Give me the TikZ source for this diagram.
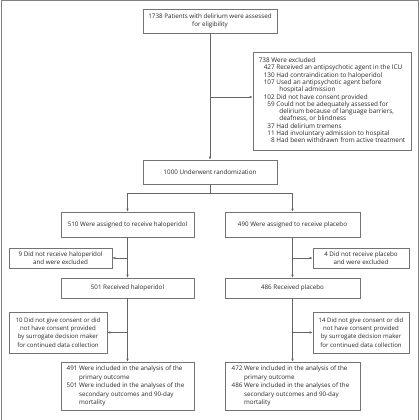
\documentclass[tikz,border=0pt]{standalone}
\usepackage{fontspec}
\setmainfont{Open Sans}
\usetikzlibrary{arrows.meta}
\begin{document}
\begin{tikzpicture}[x=1pt,y=-1pt,
  box/.style={draw=black!55,line width=0.6pt,rectangle,inner sep=0pt,align=center,
    font=\fontsize{6.25}{8.4}\selectfont,text=black!85},
  conn/.style={draw=black!60,line width=0.6pt},
  arr/.style={conn,-{Latex[length=3pt,width=2.6pt]}}]
\useasboundingbox (0,0) rectangle (420,420);
\draw[black!50,line width=1pt] (1,421) -- (1,1) -- (418.5,1) -- (418.5,421);
% nodes
\node[box,minimum width=134pt,minimum height=24pt] (top) at (210,21)
  {1738 Patients with delirium were assessed\\for eligibility};
\node[box,minimum width=158pt,minimum height=98pt,align=left,font=\fontsize{6.4}{8.4}\selectfont] (excl) at (332,101)
  {\begin{tabular}{@{}l@{}}
   738 Were excluded\\[-1.1pt]
   \hspace*{5pt}\begin{tabular}{@{}r@{\ }l@{}}
   427 & Received an antipsychotic agent in the ICU\\[-1.1pt]
   130 & Had contraindication to haloperidol\\[-1.1pt]
   107 & Used an antipsychotic agent before\\[-1.1pt]
       & \hspace*{3pt}hospital admission\\[-1.1pt]
   102 & Did not have consent provided\\[-1.1pt]
   59 & Could not be adequately assessed for\\[-1.1pt]
      & \hspace*{3pt}delirium because of language barriers,\\[-1.1pt]
      & \hspace*{3pt}deafness, or blindness\\[-1.1pt]
   37 & Had delirium tremens\\[-1.1pt]
   11 & Had involuntary admission to hospital\\[-1.1pt]
   8 & Had been withdrawn from active treatment
   \end{tabular}
   \end{tabular}};
\node[box,minimum width=134pt,minimum height=24pt] (rand) at (210,172)
  {1000 Underwent randomization};
\node[box,minimum width=133pt,minimum height=25pt] (asgL) at (127.5,224.5)
  {510 Were assigned to receive haloperidol};
\node[box,minimum width=135pt,minimum height=25pt] (asgR) at (292.5,224.5)
  {490 Were assigned to receive placebo};
\node[box,minimum width=103pt,minimum height=20pt] (notL) at (60.5,258)
  {9 Did not receive haloperidol\\and were excluded};
\node[box,minimum width=96pt,minimum height=20pt] (notR) at (361,258)
  {4 Did not receive placebo\\and were excluded};
\node[box,minimum width=133pt,minimum height=20pt] (recL) at (127.5,288)
  {501 Received haloperidol};
\node[box,minimum width=135pt,minimum height=20pt] (recR) at (292.5,288)
  {486 Received placebo};
\node[box,minimum width=98pt,minimum height=41pt,font=\fontsize{6.1}{8.3}\selectfont] (conL) at (58,332.5)
  {10 Did not give consent or did\\not have consent provided\\by surrogate decision maker\\for continued data collection};
\node[box,minimum width=96pt,minimum height=41pt,font=\fontsize{6.1}{8.3}\selectfont] (conR) at (361,332.5)
  {14 Did not give consent or did\\not have consent provided\\by surrogate decision maker\\for continued data collection};
\node[box,minimum width=133pt,minimum height=48pt] (finL) at (127.5,386)
  {\begin{tabular}{@{}r@{\ }l@{}}
   491 & Were included in the analysis of the\\
       & primary outcome\\
   501 & Were included in the analyses of the\\
       & secondary outcomes and 90-day\\
       & mortality
   \end{tabular}\hspace*{4pt}};
\node[box,minimum width=135pt,minimum height=48pt] (finR) at (292.5,386)
  {\begin{tabular}{@{}r@{\ }l@{}}
   472 & Were included in the analysis of the\\
       & primary outcome\\
   486 & Were included in the analyses of the\\
       & secondary outcomes and 90-day\\
       & mortality
   \end{tabular}\hspace*{4pt}};
% connectors
\draw[arr] (top.south) -- (rand.north);
\coordinate (ex) at (210,97);
\draw[arr] (ex) -- (ex -| excl.west);
\coordinate (br) at (210,193);
\draw[conn] (rand.south) -- (br);
\draw[arr] (br) -| (asgL.north);
\draw[arr] (br) -| (asgR.north);
\draw[arr] (asgL.south) -- (recL.north);
\draw[arr] (asgR.south) -- (recR.north);
\draw[arr] (notL.east -| asgL.south) -- (notL.east);
\draw[arr] (notR.west -| asgR.south) -- (notR.west);
\draw[arr] (recL.south) -- (finL.north);
\draw[arr] (recR.south) -- (finR.north);
\draw[arr] (conL.east -| recL.south) -- (conL.east);
\draw[arr] (conR.west -| recR.south) -- (conR.west);
\end{tikzpicture}
\end{document}
